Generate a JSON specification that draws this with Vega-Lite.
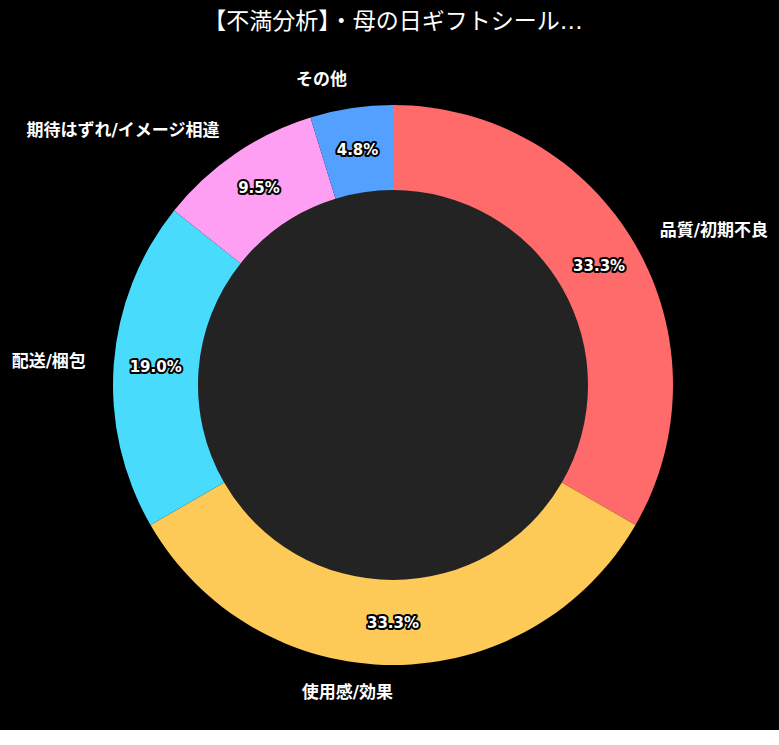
{
  "$schema": "https://vega.github.io/schema/vega-lite/v6.json",
  "autosize": "none",
  "width": 778,
  "height": 690,
  "padding": {"left": 4, "top": 40, "right": 0, "bottom": 0},
  "background": "#000000",
  "title": {
    "text": "【不満分析】・母の日ギフトシール…",
    "color": "#ffffff",
    "fontSize": 23,
    "fontWeight": "normal",
    "font": "DejaVu Sans, Noto Sans CJK JP",
    "anchor": "middle",
    "offset": 6
  },
  "data": {
    "values": [
      {"idx": 1, "cat": "品質/初期不良", "count": 7, "pct": "33.3%"},
      {"idx": 2, "cat": "使用感/効果", "count": 7, "pct": "33.3%"},
      {"idx": 3, "cat": "配送/梱包", "count": 4, "pct": "19.0%"},
      {"idx": 4, "cat": "期待はずれ/イメージ相違", "count": 2, "pct": "9.5%"},
      {"idx": 5, "cat": "その他", "count": 1, "pct": "4.8%"}
    ]
  },
  "encoding": {
    "theta": {"field": "count", "type": "quantitative", "stack": true},
    "order": {"field": "idx", "type": "quantitative"},
    "detail": {"field": "cat", "type": "nominal"}
  },
  "layer": [
    {
      "mark": {"type": "arc", "radius": 195, "innerRadius": 0, "fill": "#232323", "stroke": "#232323", "strokeWidth": 1}
    },
    {
      "mark": {"type": "arc", "radius": 280, "innerRadius": 195},
      "encoding": {
        "color": {
          "field": "cat",
          "type": "nominal",
          "scale": {
            "domain": ["品質/初期不良", "使用感/効果", "配送/梱包", "期待はずれ/イメージ相違", "その他"],
            "range": ["#FF6B6B", "#FECA57", "#48DBFB", "#FF9FF3", "#54A0FF"]
          },
          "legend": null
        }
      }
    },
    {
      "mark": {"type": "text", "radius": 238, "fontSize": 15, "fontWeight": "bold", "font": "DejaVu Sans", "stroke": "#000000", "strokeWidth": 4, "strokeJoin": "round", "fill": "#000000", "align": "center", "baseline": "middle"},
      "encoding": {"text": {"field": "pct"}}
    },
    {
      "mark": {"type": "text", "radius": 238, "fontSize": 15, "fontWeight": "bold", "font": "DejaVu Sans", "fill": "#ffffff", "align": "center", "baseline": "middle"},
      "encoding": {"text": {"field": "pct"}}
    },
    {
      "mark": {"type": "text", "radius": 308, "fontSize": 17, "fontWeight": "bold", "font": "DejaVu Sans, Noto Sans CJK JP", "fill": "#ffffff", "align": "left", "baseline": "middle"},
      "encoding": {
        "text": {"condition": {"test": "datum.cat == '品質/初期不良'", "field": "cat"}, "value": ""}
      }
    },
    {
      "mark": {"type": "text", "radius": 308, "fontSize": 17, "fontWeight": "bold", "font": "DejaVu Sans, Noto Sans CJK JP", "fill": "#ffffff", "align": "right", "baseline": "middle"},
      "encoding": {
        "text": {"condition": {"test": "datum.cat != '品質/初期不良'", "field": "cat"}, "value": ""}
      }
    }
  ],
  "config": {"view": {"stroke": null}}
}
